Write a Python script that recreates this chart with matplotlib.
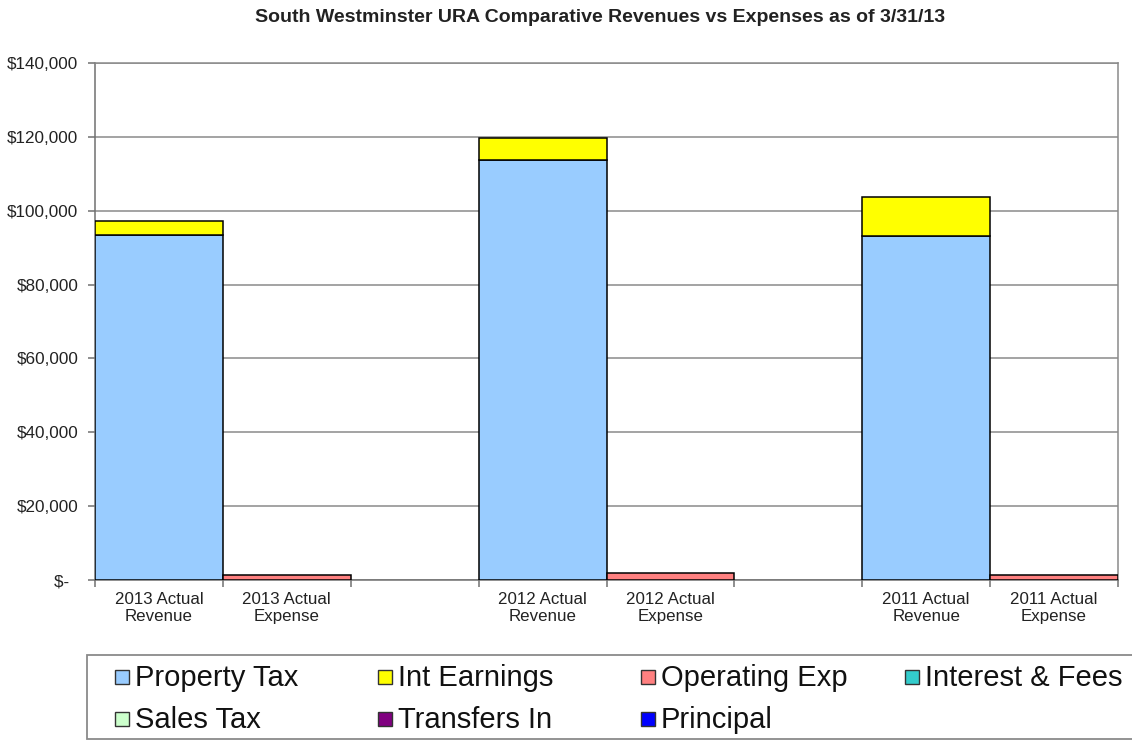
import matplotlib
matplotlib.use("Agg")
import matplotlib.pyplot as plt
from matplotlib.patches import Rectangle
from matplotlib.ticker import FuncFormatter, MultipleLocator
import numpy as np

plt.rcParams['font.family'] = ['Liberation Sans', 'DejaVu Sans']

# ---- data ----
categories = ["2013 Actual\nRevenue", "2013 Actual\nExpense", "",
              "2012 Actual\nRevenue", "2012 Actual\nExpense", "",
              "2011 Actual\nRevenue", "2011 Actual\nExpense"]
property_tax = [93300, 0, 0, 113700, 0, 0, 93200, 0]
int_earnings = [3800, 0, 0, 6100, 0, 0, 10400, 0]
operating_exp = [0, 1450, 0, 0, 1800, 0, 0, 1450]
interest_fees = [0, 0, 0, 0, 0, 0, 0, 0]
sales_tax = [0, 0, 0, 0, 0, 0, 0, 0]
transfers_in = [0, 0, 0, 0, 0, 0, 0, 0]
principal = [0, 0, 0, 0, 0, 0, 0, 0]

series_names = ["Property Tax", "Int Earnings", "Operating Exp", "Interest & Fees",
                "Sales Tax", "Transfers In", "Principal"]
series_values = [property_tax, int_earnings, operating_exp, interest_fees,
                 sales_tax, transfers_in, principal]
series_colors = ["#99CCFF", "#FFFF00", "#FF8080", "#33CCCC",
                 "#CCFFCC", "#800080", "#0000FF"]

title = "South Westminster URA Comparative Revenues vs Expenses as of 3/31/13"

W, H = 1132, 741
fig = plt.figure(figsize=(W / 100, H / 100), dpi=100)
ax = fig.add_axes([95 / W, 1 - 580 / H, (1118 - 95) / W, (580 - 63) / H])

x = np.arange(len(categories))
bottom = np.zeros(len(categories))
for name, vals, col in zip(series_names, series_values, series_colors):
    v = np.array(vals, dtype=float)
    mask = v > 0
    if mask.any():
        ax.bar(x[mask], v[mask], width=1.0, bottom=bottom[mask], color=col,
               edgecolor="black", linewidth=1.1, zorder=3)
    bottom += v

ax.set_xlim(-0.5, len(categories) - 0.5)
ax.set_ylim(0, 140000)
ax.yaxis.set_major_locator(MultipleLocator(20000))
ax.yaxis.set_major_formatter(FuncFormatter(
    lambda v, p: "$-  " if v == 0 else "${:,.0f}".format(v)))
ax.grid(axis="y", color="#8a8a8a", linewidth=1.1, zorder=0)
for s in ax.spines.values():
    s.set_color("#8a8a8a")
    s.set_linewidth(1.1)
ax.spines['left'].set_color("#707070")
ax.spines['bottom'].set_color("#707070")

ax.set_xticks(x)
ax.set_xticklabels(categories, fontsize=12.2, color="#222222", linespacing=1.15)
ax.tick_params(axis="x", which="major", length=0, pad=9)
ax.set_xticks(np.arange(-0.5, len(categories)), minor=True)
ax.tick_params(axis="x", which="minor", length=5, color="#707070", width=1.1)
ax.tick_params(axis="y", length=5, color="#707070", width=1.1, labelsize=12.3,
               pad=7, labelcolor="#222222")

fig.text(600 / W, 1 - 17 / H, title, ha="center", va="center",
         fontsize=14, fontweight="bold", color="#222222")

# ---- legend drawn manually ----
fig.patches.append(Rectangle((87 / W, 1 - 739 / H), (1140 - 87) / W, (739 - 655) / H,
                             transform=fig.transFigure, facecolor="white",
                             edgecolor="#8a8a8a", linewidth=1.3))
col_x = [115, 378, 641, 905]
row_y = [677, 719]
sq = 14
for i, (name, col) in enumerate(zip(series_names, series_colors)):
    r, c = divmod(i, 4)
    cx, cy = col_x[c], row_y[r]
    fig.patches.append(Rectangle((cx / W, 1 - (cy + sq / 2) / H), sq / W, sq / H,
                                 transform=fig.transFigure, facecolor=col,
                                 edgecolor="#333333", linewidth=1.0))
    fig.text((cx + sq + 6) / W, 1 - (cy + 1) / H, name, ha="left", va="center",
             fontsize=21, color="#111111")

fig.savefig("out.png", dpi=100)
